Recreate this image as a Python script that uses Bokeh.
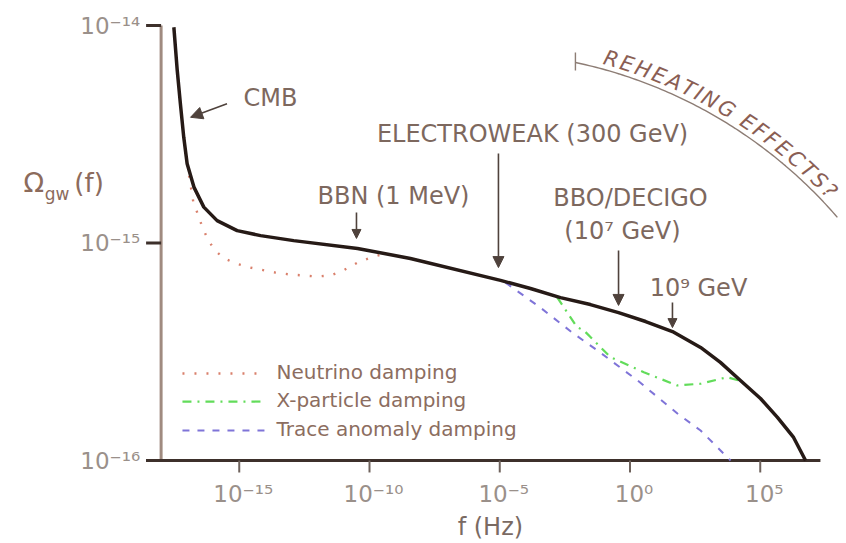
import numpy as np
from bokeh.plotting import figure
from bokeh.models import Range1d, LogScale, Arrow, NormalHead
from bokeh.core.properties import value
from bokeh.embed import file_html
from bokeh.resources import INLINE

FONT = "DejaVu Sans"

# ---- spectrum data: log10 f [Hz] and log10 Omega_gw --------------------------
std_logf = [-17.51, -17.38, -17.26, -17.13, -17.00, -16.74, -16.36, -15.85, -15.08,
            -14.18, -12.91, -10.46, -8.43, -4.97, -3.82, -2.67, -1.52, -0.44, 0.60,
            1.63, 2.71, 3.47, 4.24, 5.01, 5.66, 6.28, 6.74]
std_logo = [-14.008, -14.207, -14.359, -14.514, -14.636, -14.743, -14.835, -14.897, -14.943,
            -14.966, -14.989, -15.025, -15.071, -15.172, -15.209, -15.251, -15.283, -15.320, -15.361,
            -15.407, -15.480, -15.549, -15.632, -15.715, -15.802, -15.894, -16.000]

# neutrino free-streaming damping
nu_logf = [-17.00, -16.76, -16.60, -16.41, -16.22, -15.99, -15.64, -15.14, -14.57,
           -13.61, -13.03, -12.00, -11.50, -11.00, -10.46, -9.96, -9.39]
nu_logo = [-14.636, -14.814, -14.864, -14.929, -14.979, -15.025, -15.067, -15.094, -15.113,
           -15.136, -15.145, -15.154, -15.149, -15.126, -15.090, -15.067, -15.048]

# damping from an extra X-particle species
xp_logf = [-2.80, -2.03, -1.77, -0.75, 0.53, 1.81, 2.71, 3.73, 4.32]
xp_logo = [-15.249, -15.387, -15.402, -15.525, -15.594, -15.655, -15.647, -15.617, -15.637]

# trace anomaly damping
ta_logf = [-4.78, -3.44, -2.17, -1.25, 0.29, 1.82, 2.71, 3.86]
ta_logo = [-15.182, -15.297, -15.416, -15.494, -15.632, -15.784, -15.862, -16.000]

x_ticks = [1e-15, 1e-10, 1e-5, 1e0, 1e5]
x_tick_labels = ["10⁻¹⁵", "10⁻¹⁰", "10⁻⁵", "10⁰", "10⁵"]
y_ticks = [1e-16, 1e-15, 1e-14]
y_tick_labels = ["10⁻¹⁶", "10⁻¹⁵", "10⁻¹⁴"]

legend_labels = ["Neutrino damping", "X-particle damping", "Trace anomaly damping"]


def pw(a):
    return [10.0 ** v for v in a]


STD_COLOR = "#261a16"
NU_COLOR = "#d9806c"
XP_COLOR = "#62dc5a"
TA_COLOR = "#7f74d8"
TEXT_COLOR = "#7d685e"
TICK_TEXT = "#9a908a"
ARROW_COLOR = "#4f423c"
AXIS_DARK = "#3d302b"
AXIS_BROWN = "#a08b80"

# The drawing area covers the whole canvas; axes are drawn inside it.
p = figure(width=846, height=543,
           x_range=Range1d(10 ** -24.165, 10 ** 8.311),
           y_range=Range1d(10 ** -16.3816, 10 ** -13.885),
           x_axis_location=None, y_axis_location=None,
           output_backend="svg", toolbar_location=None, title=None,
           min_border_left=0, min_border_right=0, min_border_top=0, min_border_bottom=0)
p.x_scale = LogScale()
p.y_scale = LogScale()
p.outline_line_color = None
p.grid.visible = False
p.background_fill_color = "white"
p.border_fill_color = "white"

# ---- axes ---------------------------------------------------------------------------
F_AXIS = 1e-18          # the Omega axis stands at f = 1e-18 Hz
O_AXIS = 1e-16          # the f axis lies at Omega = 1e-16
y_tick_out = 10 ** -18.576
x_tick_out = 10 ** -16.055

p.line([F_AXIS, F_AXIS], [O_AXIS, 1e-14], line_color=AXIS_BROWN, line_width=3)
p.segment(x0=[y_tick_out] * len(y_ticks), y0=y_ticks, x1=[F_AXIS] * len(y_ticks), y1=y_ticks,
          line_color=AXIS_DARK, line_width=3)
p.line([y_tick_out, 10 ** 7.31], [O_AXIS, O_AXIS], line_color=AXIS_DARK, line_width=3)
p.segment(x0=x_ticks, y0=[O_AXIS] * len(x_ticks), x1=x_ticks, y1=[x_tick_out] * len(x_ticks),
          line_color="#6e625c", line_width=2)

p.text(x=[10 ** -18.806] * len(y_ticks), y=y_ticks, text=y_tick_labels,
       text_font=value(FONT), text_font_size="23px", text_color=TICK_TEXT,
       text_align="right", text_baseline="middle")
p.text(x=x_ticks, y=[10 ** -16.156] * len(x_ticks), text=x_tick_labels,
       text_font=value(FONT), text_font_size="23px", text_color=TICK_TEXT,
       text_align="center", text_baseline="middle", x_offset=4)

# ---- curves -------------------------------------------------------------------
p.line(pw(nu_logf), pw(nu_logo), line_color=NU_COLOR, line_width=2.4, line_dash="2 10")
p.line(pw(xp_logf), pw(xp_logo), line_color=XP_COLOR, line_width=2.2, line_dash="9 6 2 6")
p.line(pw(ta_logf), pw(ta_logo), line_color=TA_COLOR, line_width=2, line_dash="7 8")
p.line(pw(std_logf), pw(std_logo), line_color=STD_COLOR, line_width=3.5)

# ---- legend ---------------------------------------------------------------------
leg_rows = [(-15.600, -14.26, NU_COLOR, "2 10", 2.4), (-15.729, -13.99, XP_COLOR, "9 6 2 6", 2.2),
            (-15.862, -13.99, TA_COLOR, "7 8", 2)]
for (ly, lx_end, col, dash, lw), lab in zip(leg_rows, legend_labels):
    p.line([10 ** -17.18, 10 ** lx_end], [10 ** ly, 10 ** ly], line_color=col,
           line_width=lw, line_dash=dash)
    p.text(x=[10 ** -13.57], y=[10 ** (ly + 0.005)], text=[lab], text_font=value(FONT),
           text_font_size="20px", text_color="#8c6d60",
           text_align="left", text_baseline="middle")

# ---- epoch markers ----------------------------------------------------------------
markers = [
    # text, x, y, (x0, y0, x1, y1) of arrow, head size
    ("CMB", -13.80, -14.331, (-15.47, -14.360, -16.87, -14.422), 12),
    ("BBN (1 MeV)", -9.08, -14.782, (-10.50, -14.860, -10.50, -14.979), 9),
    ("ELECTROWEAK (300 GeV)", -3.74, -14.497, (-5.05, -14.589, -5.05, -15.113), 11),
    ("BBO/DECIGO", 0.02, -14.795, None, 0),
    ("(10⁷ GeV)", -0.29, -14.947, (-0.44, -15.034, -0.44, -15.287), 11),
    ("10⁹ GeV", 2.63, -15.205, (1.63, -15.274, 1.63, -15.389), 9),
]
for text, tx, ty, arr, hs in markers:
    p.text(x=[10 ** tx], y=[10 ** ty], text=[text], text_font=value(FONT),
           text_font_size="24px", text_color=TEXT_COLOR,
           text_align="center", text_baseline="middle")
    if arr is not None:
        x0, y0, x1, y1 = arr
        p.add_layout(Arrow(end=NormalHead(size=hs, fill_color=ARROW_COLOR,
                                          line_color=ARROW_COLOR, line_width=1),
                           x_start=10 ** x0, y_start=10 ** y0, x_end=10 ** x1, y_end=10 ** y1,
                           line_color=ARROW_COLOR, line_width=1.6))

# ---- reheating bracket (a circular arc on the page, an ellipse in log units) ------
arc_cx, arc_cy = -5.90, -16.315
arc_rx, arc_ry = 18.31, 2.193
th = np.radians(np.linspace(12.0, 49.2, 90))
p.line(10 ** (arc_cx + arc_rx * np.sin(th)), 10 ** (arc_cy + arc_ry * np.cos(th)),
       line_color="#8d7d75", line_width=1.4)
p.line([10 ** -2.095, 10 ** -2.095], [10 ** -14.124, 10 ** -14.207],
       line_color="#8d7d75", line_width=1.4)

reheat = "REHEATING EFFECTS?"
adv = {"R": .695, "E": .632, "H": .752, "A": .684, "T": .611, "I": .295, "N": .748,
       "G": .775, " ": .318, "F": .575, "C": .698, "S": .635, "?": .531}
cum = np.cumsum([0.0] + [adv[c] for c in reheat])
frac = (cum[:-1] + np.array([adv[c] for c in reheat]) / 2) / cum[-1]
t0, t1 = np.radians(15.0), np.radians(47.0)
tc = t0 + frac * (t1 - t0)
scale = 489.0 / 477.0
p.text(x=list(10 ** (arc_cx + arc_rx * scale * np.sin(tc))),
       y=list(10 ** (arc_cy + arc_ry * scale * np.cos(tc))),
       text=list(reheat), angle=list(-tc), angle_units="rad",
       text_font=value(FONT), text_font_size="21px", text_font_style="italic",
       text_color="#8a5e54", text_align="center", text_baseline="middle")

# ---- axis titles ------------------------------------------------------------------
title_color = "#8c6b5c"
p.text(x=[10 ** -23.28], y=[10 ** -14.722], text=["Ω"], text_font=value(FONT),
       text_font_size="27px", text_color=title_color, text_align="left", text_baseline="middle")
p.text(x=[10 ** -22.47], y=[10 ** -14.775], text=["gw"], text_font=value(FONT),
       text_font_size="17px", text_color=title_color, text_align="left", text_baseline="middle")
p.text(x=[10 ** -21.33], y=[10 ** -14.726], text=["(f)"], text_font=value(FONT),
       text_font_size="26px", text_color=title_color, text_align="left", text_baseline="middle")
p.text(x=[10 ** -5.36], y=[10 ** -16.305], text=["f (Hz)"], text_font=value(FONT),
       text_font_size="24px", text_color="#7a6a62", text_align="center", text_baseline="middle")

open("out.html", "w").write(file_html(p, INLINE))
